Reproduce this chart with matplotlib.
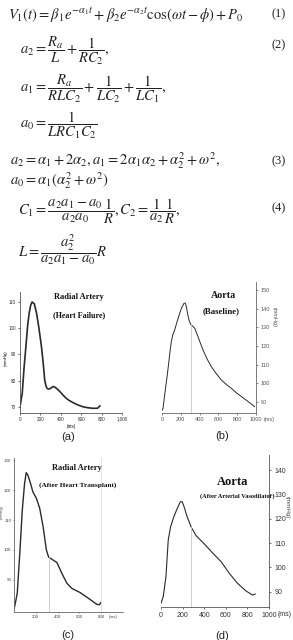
import matplotlib
matplotlib.use("Agg")
import matplotlib.pyplot as plt

plt.rcParams['mathtext.fontset'] = 'stix'
plt.rcParams['font.family'] = ['Liberation Sans', 'DejaVu Sans']

# Datos
# (a) arteria radial, insuficiencia cardiaca
a_t = [0, 22, 40, 58, 75, 90, 105, 119, 140, 162, 185, 210, 228, 242, 255, 265, 280, 291, 310, 325, 340, 360, 388, 420, 453, 485, 518, 565, 615, 665, 712, 760, 783]
a_p = [70.1, 75.2, 85.0, 93.1, 101.0, 105.8, 108.8, 110.0, 109.3, 105.8, 100.2, 93.1, 86.5, 80.3, 78.0, 77.1, 76.8, 76.9, 77.4, 77.8, 77.6, 77.0, 76.0, 74.6, 73.3, 72.4, 71.7, 70.8, 70.1, 69.7, 69.5, 69.5, 70.4]

# (b) aorta, basal
b_t = [0, 11, 35, 55, 71, 85, 99, 115, 135, 160, 188, 210, 234, 248, 259, 272, 287, 300, 312, 330, 348, 365, 383, 410, 436, 480, 525, 580, 631, 685, 738, 790, 844, 890, 933, 986]
b_p = [85.5, 86.6, 96.4, 104.0, 110.7, 117.0, 122.3, 126.0, 128.6, 133.0, 137.5, 140.6, 142.9, 143.0, 141.1, 137.5, 133.9, 132.3, 131.2, 130.4, 129.5, 127.4, 125.0, 121.3, 117.9, 113.0, 108.9, 105.0, 101.8, 99.4, 97.3, 95.0, 92.9, 91.2, 89.6, 87.5]

# (c) arteria radial, post trasplante
c_t = [0, 6, 30, 55, 76, 97, 112, 127, 152, 173, 206, 236, 267, 297, 318, 348, 394, 439, 485, 530, 606, 682, 758, 782, 797]
c_p = [80.5, 81.1, 85.6, 100.0, 113.3, 122.2, 125.8, 125.0, 122.2, 119.4, 117.2, 113.9, 107.8, 100.0, 97.6, 96.9, 95.8, 92.2, 88.9, 87.2, 85.8, 83.9, 81.9, 81.7, 82.4]

# (d) aorta, vasodilatador
d_t = [0, 21, 46, 67, 89, 119, 150, 180, 196, 214, 242, 281, 327, 404, 480, 557, 633, 709, 786, 847, 872]
d_p = [85.2, 88.0, 96.2, 111.2, 116.7, 120.8, 124.2, 127.0, 127.0, 124.9, 120.8, 116.4, 112.9, 109.5, 105.8, 102.3, 97.5, 93.4, 90.3, 88.6, 89.0]

W, H = 293, 640
fig = plt.figure(figsize=(W / 100, H / 100), dpi=100)


def box(x0, y_top, x1, y_bot):
    return [x0 / W, 1 - y_bot / H, (x1 - x0) / W, (y_bot - y_top) / H]


# Ecuaciones
eq = dict(fontsize=10.5, va='center', color='#222222')
num = dict(fontsize=9, va='center', family='Liberation Serif', color='#222222')
fig.text(8 / W, 1 - 15 / H,
         r'$V_1(t)=\beta_1 e^{-\alpha_1 t}+\beta_2 e^{-\alpha_2 t}\mathrm{cos}(\omega t-\phi)+P_0$', **eq)
fig.text(271 / W, 1 - 14 / H, '(1)', **num)
fig.text(20 / W, 1 - 51 / H, r'$a_2=\dfrac{R_a}{L}+\dfrac{1}{RC_2},$', **eq)
fig.text(271 / W, 1 - 45 / H, '(2)', **num)
fig.text(20 / W, 1 - 89 / H, r'$a_1=\dfrac{R_a}{RLC_2}+\dfrac{1}{LC_2}+\dfrac{1}{LC_1},$', **eq)
fig.text(20 / W, 1 - 125 / H, r'$a_0=\dfrac{1}{LRC_1C_2}$', **eq)
fig.text(10 / W, 1 - 161 / H,
         r'$a_2=\alpha_1+2\alpha_2, a_1=2\alpha_1\alpha_2+\alpha_2^2+\omega^2,$', **eq)
fig.text(271 / W, 1 - 161 / H, '(3)', **num)
fig.text(10 / W, 1 - 181 / H, r'$a_0=\alpha_1(\alpha_2^2+\omega^2)$', **eq)
fig.text(18 / W, 1 - 211 / H,
         r'$C_1=\dfrac{a_2a_1-a_0}{a_2a_0}\dfrac{1}{R}, C_2=\dfrac{1}{a_2}\dfrac{1}{R},$', **eq)
fig.text(271 / W, 1 - 208 / H, '(4)', **num)
fig.text(18 / W, 1 - 250 / H, r'$L=\dfrac{a_2^2}{a_2a_1-a_0}R$', **eq)

line_c = '#2a2a2a'
guide_c = '#c8c8c8'
title_kw = dict(family='Liberation Serif', weight='bold', ha='center', va='center', color='#111111')

# (a)
ax = fig.add_axes(box(20, 292, 122, 413))
ax.plot(a_t, a_p, color=line_c, lw=1.2)
ax.set_xlim(0, 1000)
ax.set_ylim(67.7, 113.8)
ax.set_xticks([0, 200, 400, 600, 800, 1000], ['0', '200', '400', '600', '800', '1,000'])
ax.set_yticks([70, 80, 90, 100, 110])
ax.tick_params(labelsize=3.3, length=1.2, width=0.5, pad=1.5, colors='#333333')
for s in ['top', 'right']:
    ax.spines[s].set_visible(False)
for s in ['left', 'bottom']:
    ax.spines[s].set_linewidth(0.6)
    ax.spines[s].set_color('#555555')
ax.set_xlabel('(ms)', fontsize=3.3, labelpad=1.5)
fig.text(6 / W, 1 - 358 / H, '(mmHg)', fontsize=3.2, rotation=90, ha='center', va='center')
fig.text(79 / W, 1 - 297 / H, 'Radial Artery', fontsize=6, **title_kw)
fig.text(79 / W, 1 - 315 / H, '(Heart Failure)', fontsize=5.8, **title_kw)

# (b)
ax = fig.add_axes(box(162, 282, 256, 413))
ax.plot(b_t, b_p, color=line_c, lw=0.7)
ax.plot([308, 308], [84.1, 131.6], color=guide_c, lw=0.6)
ax.set_xlim(0, 1000)
ax.set_ylim(84.1, 154.3)
ax.yaxis.tick_right()
ax.set_xticks([0, 200, 400, 600, 800, 1000])
ax.set_yticks([90, 100, 110, 120, 130, 140, 150])
ax.tick_params(labelsize=4, length=1.2, width=0.5, pad=2, colors='#555555')
for s in ['top', 'left']:
    ax.spines[s].set_visible(False)
for s in ['right', 'bottom']:
    ax.spines[s].set_linewidth(0.6)
    ax.spines[s].set_color('#666666')
fig.text(264 / W, 1 - 419 / H, '(ms)', fontsize=4, ha='left', va='center', color='#555555')
fig.text(274 / W, 1 - 317 / H, '(mmHg)', fontsize=4, rotation=270, ha='center', va='center', color='#555555')
fig.text(223 / W, 1 - 295 / H, 'Aorta', fontsize=7.2, **title_kw)
fig.text(221 / W, 1 - 311 / H, '(Baseline)', fontsize=6.3, **title_kw)

# (c)
ax = fig.add_axes(box(14, 458, 123, 612))
ax.plot(c_t, c_p, color=line_c, lw=1.0)
ax.plot([318, 318], [79.3, 97.6], color=guide_c, lw=0.6)
ax.plot([797, 797], [79.3, 130.6], color='#dddddd', lw=0.6)
ax.set_xlim(0, 1000)
ax.set_ylim(79.3, 130.7)
ax.set_xticks([200, 400, 600, 800])
ax.set_yticks([90, 100, 110, 120, 130])
ax.tick_params(labelsize=3.2, length=1.0, width=0.5, pad=1, colors='#444444')
for s in ['top', 'right']:
    ax.spines[s].set_visible(False)
for s in ['left', 'bottom']:
    ax.spines[s].set_linewidth(0.6)
    ax.spines[s].set_color('#666666')
fig.text(113 / W, 1 - 617 / H, '(ms)', fontsize=3.2, ha='center', va='center', color='#444444')
fig.text(1.5 / W, 1 - 512 / H, '(mmHg)', fontsize=2.8, rotation=90, ha='center', va='center', color='#444444')
fig.text(77 / W, 1 - 468 / H, 'Radial Artery', fontsize=6, **title_kw)
fig.text(78 / W, 1 - 485 / H, '(After Heart Transplant)', fontsize=5.2, **title_kw)

# (d)
ax = fig.add_axes(box(161, 455, 269, 606.7))
ax.plot(d_t, d_p, color=line_c, lw=0.8)
ax.plot([281, 281], [83.8, 116.4], color=guide_c, lw=0.6)
ax.set_xlim(0, 1000)
ax.set_ylim(83.8, 146.2)
ax.yaxis.tick_right()
ax.set_xticks([0, 200, 400, 600, 800, 1000])
ax.set_yticks([90, 100, 110, 120, 130, 140])
ax.tick_params(labelsize=5, length=1.5, width=0.5, pad=2.5, colors='#333333')
for s in ['top', 'left']:
    ax.spines[s].set_visible(False)
for s in ['right', 'bottom']:
    ax.spines[s].set_linewidth(0.6)
    ax.spines[s].set_color('#555555')
fig.text(278 / W, 1 - 614 / H, '(ms)', fontsize=5, ha='left', va='center', color='#333333')
fig.text(287 / W, 1 - 507 / H, '(mmHg)', fontsize=4.5, rotation=270, ha='center', va='center', color='#444444')
fig.text(233 / W, 1 - 482 / H, 'Aorta', fontsize=9, **title_kw)
fig.text(237 / W, 1 - 496 / H, '(After Arterial Vasodilator)', fontsize=4.6, **title_kw)

# Etiquetas de panel
for lbl, x, y in [('(a)', 68, 437), ('(b)', 222, 436), ('(c)', 68, 635), ('(d)', 222, 636)]:
    fig.text(x / W, 1 - y / H, lbl, fontsize=8, ha='center', va='center', color='#222222')

fig.savefig('out.png', dpi=100)
